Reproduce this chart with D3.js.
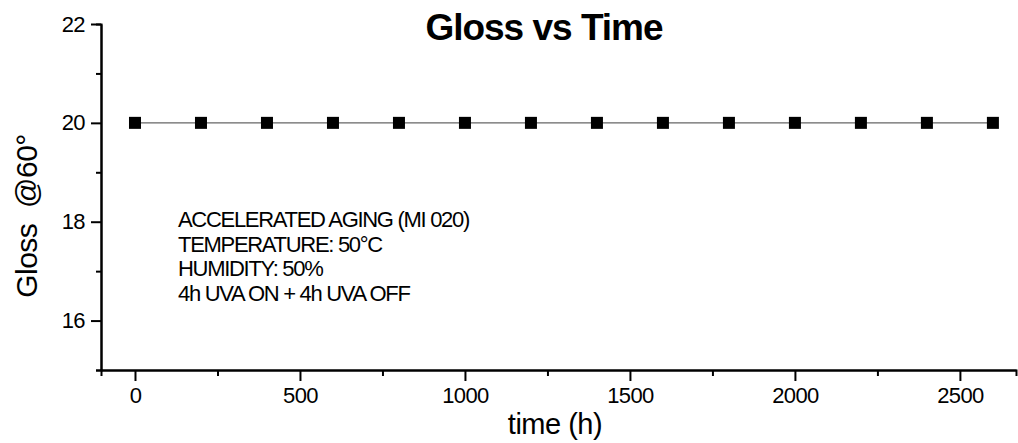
<!DOCTYPE html>
<html>
<head>
<meta charset="utf-8">
<script src="https://cdn.jsdelivr.net/npm/d3@7"></script>
<style>
  body { margin: 0; background: #fff; }
  text { font-family: "Liberation Sans", Arial, sans-serif; fill: #000; }
</style>
</head>
<body>
<svg width="1018" height="443"></svg>
<script>
let times = [0, 200, 400, 600, 800, 1000, 1200, 1400, 1600, 1800, 2000, 2200, 2400, 2600]
let gloss = [20, 20, 20, 20, 20, 20, 20, 20, 20, 20, 20, 20, 20, 20]
let xTicks = [0, 500, 1000, 1500, 2000, 2500]
let xMinor = [250, 750, 1250, 1750, 2250]
let yTicks = [16, 18, 20, 22]
let yMinor = [15, 17, 19, 21]
let notes = ['ACCELERATED AGING (MI 020)', 'TEMPERATURE: 50°C', 'HUMIDITY: 50%', '4h UVA ON + 4h UVA OFF']

let svg = d3.select('svg')

let x = d3.scaleLinear().domain([-103, 2670]).range([101, 1016])
let y = d3.scaleLinear().domain([15, 22]).range([370, 24])

// minor ticks first, then major axes on top
svg.append('g')
    .attr('transform', 'translate(0,370)')
    .call(d3.axisBottom(x).tickValues(xMinor).tickSize(6).tickFormat(''))
svg.append('g')
    .attr('transform', 'translate(101,0)')
    .call(d3.axisLeft(y).tickValues(yMinor).tickSize(5).tickFormat(''))

svg.append('g')
    .attr('transform', 'translate(0,370)')
    .call(d3.axisBottom(x).tickValues(xTicks).tickFormat(d3.format('d')).tickSize(11).tickSizeOuter(0).tickPadding(6))
svg.append('g')
    .attr('transform', 'translate(101,0)')
    .call(d3.axisLeft(y).tickValues(yTicks).tickFormat(d3.format('d')).tickSize(10).tickSizeOuter(0).tickPadding(6))

svg.selectAll('.domain, .tick line').attr('stroke', '#000').attr('stroke-width', 2)
svg.selectAll('.tick text').style('font-size', '22px').style('letter-spacing', '-0.6px')

let line = d3.line().x((d, i) => x(times[i])).y(d => y(d))
svg.append('path')
    .datum(gloss)
    .attr('d', line)
    .attr('fill', 'none')
    .attr('stroke', '#666')
    .attr('stroke-width', 1.3)

svg.selectAll('rect.pt')
    .data(gloss)
    .enter()
    .append('rect')
    .attr('class', 'pt')
    .attr('x', (d, i) => x(times[i]) - 6)
    .attr('y', d => y(d) - 6)
    .attr('width', 12)
    .attr('height', 12)
    .attr('fill', '#000')

svg.append('text')
    .attr('x', 544)
    .attr('y', 40)
    .attr('text-anchor', 'middle')
    .style('font-size', '37px')
    .style('font-weight', 'bold')
    .style('letter-spacing', '-1px')
    .text('Gloss vs Time')

svg.append('text')
    .attr('x', 555)
    .attr('y', 434)
    .attr('text-anchor', 'middle')
    .style('font-size', '29px')
    .style('letter-spacing', '-0.5px')
    .text('time (h)')

svg.append('text')
    .attr('transform', 'translate(37,216) rotate(-90)')
    .attr('text-anchor', 'middle')
    .style('font-size', '30px')
    .style('letter-spacing', '-0.5px')
    .style('white-space', 'pre')
    .text('Gloss  @60°')

svg.append('g')
    .selectAll('text')
    .data(notes)
    .enter()
    .append('text')
    .attr('x', 178)
    .attr('y', (d, i) => 227 + i * 24.5)
    .style('font-size', '22px')
    .style('letter-spacing', '-1.3px')
    .text(d => d)
</script>
</body>
</html>
